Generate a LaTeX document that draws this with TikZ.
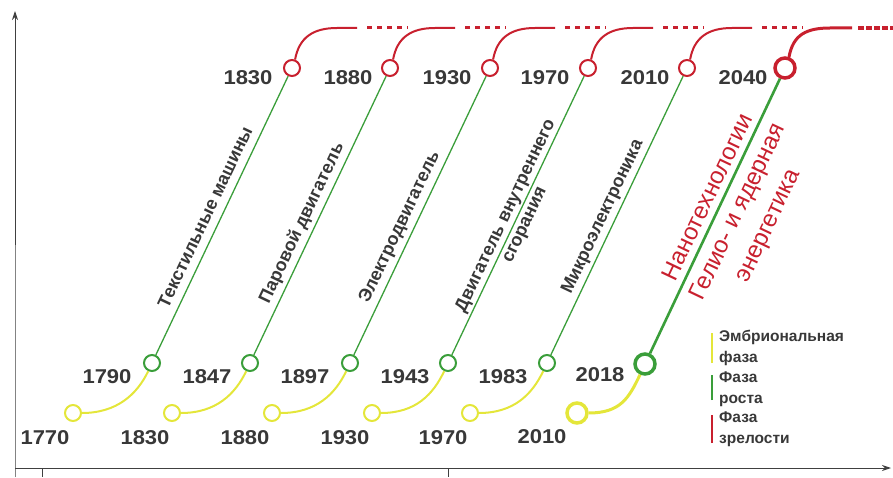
\documentclass[tikz,border=0pt]{standalone}
\usepackage{fontspec}
\setmainfont{Liberation Sans}
\newfontfamily\yrfont{Liberation Sans}[FakeStretch=1.1]
\usetikzlibrary{arrows.meta}
\definecolor{yel}{HTML}{E4E63A}
\definecolor{grn}{HTML}{3A9E3A}
\definecolor{rd}{HTML}{C8202E}
\definecolor{txt}{HTML}{383838}
\definecolor{axc}{HTML}{404040}
\begin{document}
\begin{tikzpicture}[x=1pt,y=1pt,
  ycirc/.style={circle,draw=yel,line width=2pt,fill=white,minimum size=16pt,inner sep=0pt},
  gcirc/.style={circle,draw=grn,line width=2pt,fill=white,minimum size=16pt,inner sep=0pt},
  rcirc/.style={circle,draw=rd,line width=2pt,fill=white,minimum size=16pt,inner sep=0pt},
  bigc/.style={line width=3.5pt,minimum size=20pt},
  gline/.style={draw=grn,line width=1.3pt},
  yline/.style={draw=yel,line width=2pt},
  rline/.style={draw=rd,line width=2pt},
  rdots/.style={draw=rd,line width=3pt,dash pattern=on 4.5pt off 5.5pt},
  yr/.style={text=txt,font=\yrfont\bfseries\fontsize{20}{24}\selectfont,inner sep=0pt},
  lbl/.style={text=txt,font=\bfseries\fontsize{18}{21}\selectfont,rotate=64.6,inner sep=0pt,align=center},
  leg/.style={text=txt,font=\bfseries\fontsize{15.5}{20.5}\selectfont,inner sep=0pt,align=left,anchor=west},
  axis/.style={draw=axc,line width=1pt}
]
\useasboundingbox (0,0) rectangle (893,477);
% axes
\coordinate (O) at (15,9);
\coordinate (Ytop) at (15,466);
\coordinate (Xend) at (891,9);
\draw[axis,-{Stealth[length=9pt,width=6pt]}] (15,0) -- (O) -- (Ytop);
\draw[axis,-{Stealth[length=9pt,width=6pt]}] (O) -- (Xend);
\coordinate (k1a) at (42,9); \coordinate (k1b) at (42,0);
\coordinate (k2a) at (448,9); \coordinate (k2b) at (448,0);
\draw[axis] (k1a) -- (k1b);
\draw[axis] (k2a) -- (k2b);

% circles and connectors
\foreach \i/\xy/\xg/\xr in {1/73/152/292,2/172/250/390,3/272/350/490,4/372/448/588,5/470/547/687}{
  \node[ycirc] (y\i) at (\xy,64) {};
  \node[gcirc] (g\i) at (\xg,114) {};
  \node[rcirc] (r\i) at (\xr,409) {};
  \coordinate (h\i) at (\xr+45,449);
  \coordinate (e\i) at (\xr+65,449);
  \coordinate (da\i) at (\xr+75,449);
  \coordinate (db\i) at (\xr+116,449);
  \draw[gline] (g\i) -- (r\i);
  \draw[yline] (y\i.east) .. controls +(35,0) and +(-11,-23) .. (g\i.-115);
  \draw[rline] (r\i.70) .. controls +(4,22) and +(-24,0) .. (h\i) -- (e\i);
  \draw[rdots] (da\i) -- (db\i);
}
\node[ycirc,bigc] (y6) at (577,64) {};
\node[gcirc,bigc] (g6) at (645,113) {};
\node[rcirc,bigc] (r6) at (785,409) {};
\coordinate (h6) at (830,449);
\coordinate (e6) at (852,449);
\coordinate (da6) at (858,449);
\coordinate (db6) at (893,449);
\draw[gline,line width=2.6pt] (g6) -- (r6);
\draw[yline,line width=3pt] (y6.east) .. controls +(32,0) and +(-11,-23) .. (g6.-115);
\draw[rline,line width=3pt] (r6.70) .. controls +(4,22) and +(-24,0) .. (h6) -- (e6);
\draw[draw=rd,line width=4pt,dash pattern=on 6pt off 2pt] (da6) -- (db6);

% years bottom
\node[yr] (b1) at (45,39) {1770};
\node[yr] (b2) at (145,39) {1830};
\node[yr] (b3) at (245,39) {1880};
\node[yr] (b4) at (345,39) {1930};
\node[yr] (b5) at (443,39) {1970};
\node[yr] (b6) at (542,40) {2010};
% years middle
\node[yr] (m1) at (107,100) {1790};
\node[yr] (m2) at (207,100) {1847};
\node[yr] (m3) at (305,100) {1897};
\node[yr] (m4) at (405,100) {1943};
\node[yr] (m5) at (503,100) {1983};
\node[yr] (m6) at (600,102) {2018};
% years top
\node[yr] (t1) at (248,399) {1830};
\node[yr] (t2) at (348,399) {1880};
\node[yr] (t3) at (447,399) {1930};
\node[yr] (t4) at (545,399) {1970};
\node[yr] (t5) at (645,399) {2010};
\node[yr] (t6) at (743,399) {2040};

% rotated labels
\node[lbl] (L1) at (205,260) {Текстильные машины};
\node[lbl] (L2) at (302,254) {Паровой двигатель};
\node[lbl] (L3) at (400,250) {Электродвигатель};
\node[lbl] (L4) at (515.5,256.5) {Двигатель внутреннего\\сгорания};
\node[lbl] (L5) at (603,260) {Микроэлектроника};
\node[lbl,text=rd,font=\fontsize{24}{33}\selectfont] (L6) at (739,265) {Нанотехнологии\\Гелио- и ядерная\\энергетика};

% legend
\coordinate (la1) at (712,114); \coordinate (lb1) at (712,144);
\coordinate (la2) at (712,77); \coordinate (lb2) at (712,102);
\coordinate (la3) at (712,34); \coordinate (lb3) at (712,62);
\draw[yel,line width=1.5pt] (la1) -- (lb1);
\draw[grn,line width=1.5pt] (la2) -- (lb2);
\draw[rd,line width=1.5pt] (la3) -- (lb3);
\node[leg] (T1) at (719,129) {Эмбриональная\\фаза};
\node[leg] (T2) at (719,88) {Фаза\\роста};
\node[leg] (T3) at (719,48) {Фаза\\зрелости};
\end{tikzpicture}
\end{document}
